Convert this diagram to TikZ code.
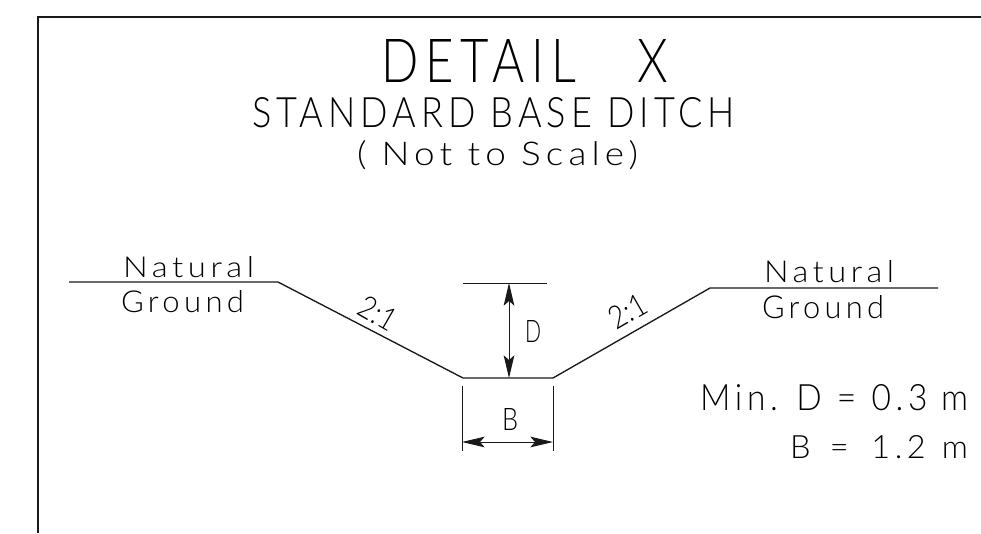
\documentclass[tikz,border=0pt]{standalone}
\usepackage{fontspec}
\usepackage{graphicx}
\setmainfont{Lato Light}
\newfontfamily\cadwide[LetterSpace=14]{Lato Light}
\usetikzlibrary{arrows.meta}
\tikzset{
  cadline/.style={line width=1pt,black!90},
  thinline/.style={line width=0.7pt,black!90},
  dimarrow/.style={line width=0.7pt,black!90,{Stealth[length=17pt,width=8pt,inset=3.5pt]}-{Stealth[length=17pt,width=8pt,inset=3.5pt]}},
  cadtext/.style={inner sep=0pt,outer sep=0pt,anchor=base west,text=black,font=\cadwide}
}
% name, x-left, y-top, x-right, y-baseline, text
\newcommand{\cadlabel}[6]{%
  \pgfmathsetmacro{\cw}{(#4-#2)*0.75}%
  \pgfmathsetmacro{\ch}{(#5-#3)*0.75}%
  \node[cadtext] (#1) at (#2,#5) {\resizebox{\cw pt}{\ch pt}{#6}};}
\begin{document}
\begin{tikzpicture}[x=0.75pt,y=-0.75pt]
\useasboundingbox (0,0) rectangle (981,533);
\fill[white] (0,0) rectangle (981,533);
% frame
\coordinate (fb) at (38,533);
\coordinate (fc) at (38,17);
\coordinate (fr) at (981,17);
\draw[cadline] (fb) -- (fc) -- (fr);
% titles
\cadlabel{t1}{381}{39}{668}{82}{DETAIL\hspace{1.25em}X}
\cadlabel{t2}{252}{97}{735}{127}{STANDARD BASE DITCH}
\cadlabel{t3}{357}{140}{638}{165}{( Not to Scale)}
% ground profile
\coordinate (a) at (69,282);
\coordinate (b) at (278,282);
\coordinate (c) at (463,378);
\coordinate (d) at (553,378);
\coordinate (e) at (710,288);
\coordinate (f) at (938,288);
\draw[cadline] (a) -- (b) -- (c) -- (d) -- (e) -- (f);
% labels
\cadlabel{n1}{123}{256}{254}{277}{Natural}
\cadlabel{g1}{121}{290}{244}{312}{Ground}
\cadlabel{n2}{764}{260}{894}{282}{Natural}
\cadlabel{g2}{762}{295}{884}{318}{Ground}
% dimension D
\coordinate (dl) at (463,283);
\coordinate (dr) at (547,283);
\coordinate (dt) at (509,283);
\coordinate (db) at (509,378);
\draw[thinline] (dl) -- (dr);
\draw[dimarrow] (dt) -- (db);
\cadlabel{dd}{525}{320}{541}{342}{D}
% dimension B
\coordinate (e1) at (462,386);
\coordinate (e2) at (462,451);
\coordinate (e3) at (553,386);
\coordinate (e4) at (553,451);
\coordinate (bl) at (462,442);
\coordinate (br) at (553,442);
\draw[thinline] (e1) -- (e2);
\draw[thinline] (e3) -- (e4);
\draw[dimarrow] (bl) -- (br);
\cadlabel{bb}{502}{408}{518}{430}{B}
% slopes
\node[inner sep=0pt,rotate=-30] (s1) at (378,313) {\resizebox{29pt}{17pt}{2:1}};
\node[inner sep=0pt,rotate=30] (s2) at (628,311) {\resizebox{29pt}{17pt}{2:1}};
% notes
\cadlabel{m1}{700}{384}{968}{410}{Min. D\hspace{0.45em}=\hspace{0.45em}0.3\hspace{0.4em}m}
\cadlabel{m2}{790}{435}{968}{458}{B\hspace{0.6em}=\hspace{0.7em}1.2\hspace{0.5em}m}
\end{tikzpicture}
\end{document}
